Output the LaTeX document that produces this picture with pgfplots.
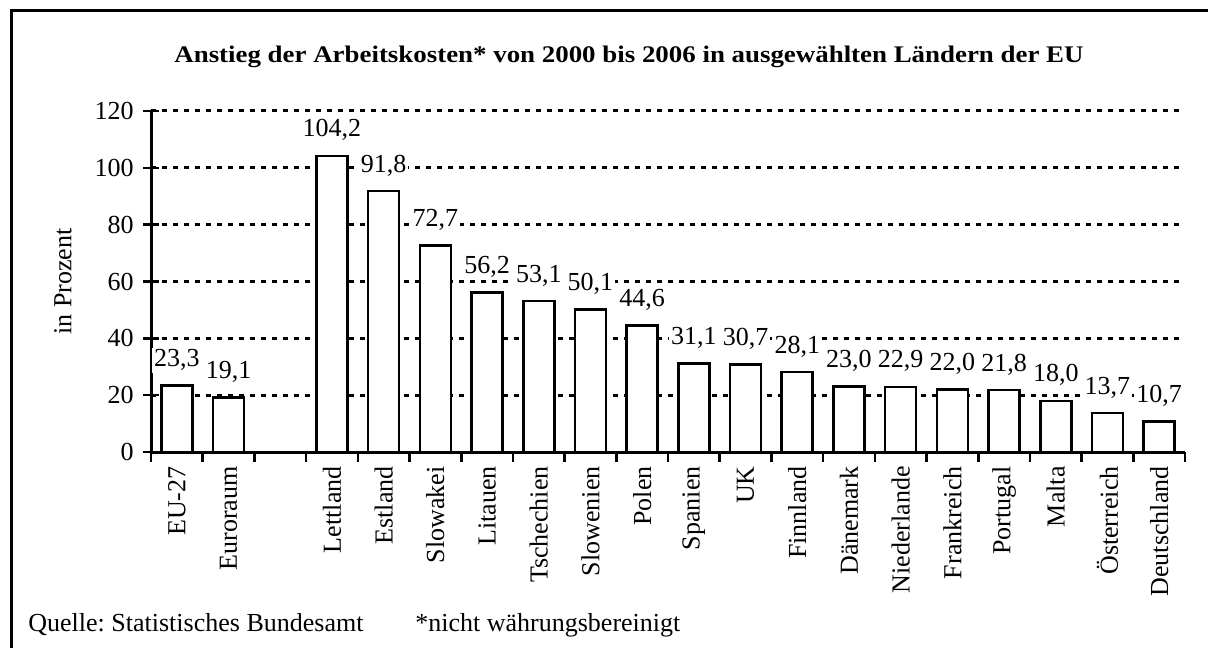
\documentclass[border=0pt]{standalone}
\usepackage{fontspec}
\setmainfont{Liberation Serif}
\newfontfamily\titlefont{Liberation Serif}[FakeStretch=1.13]
\usepackage{pgfplots}
\pgfplotsset{compat=1.18}
\frenchspacing
\begin{document}
\begin{tikzpicture}[font=\fontsize{13bp}{15bp}\selectfont]
\useasboundingbox[fill=white] (0,0) rectangle (604bp,324bp);
\draw[line width=1.5bp] (5.5bp,0) -- (5.5bp,318.5bp) -- (604bp,318.5bp);
\node[font=\titlefont\fontsize{11.9bp}{13bp}\selectfont\bfseries] at (314.5bp,295.5bp) {Anstieg der Arbeitskosten* von 2000 bis 2006 in ausgewählten Ländern der EU};
\node[anchor=base west, inner sep=0pt] at (14bp,8.5bp) {Quelle:\ Statistisches Bundesamt};
\node[anchor=base west, inner sep=0pt] at (207.5bp,8.5bp) {*nicht währungsbereinigt};
\begin{axis}[
  at={(75.5bp,98bp)}, anchor=south west,
  scale only axis, width=517bp, height=170.5bp,
  xmin=-0.5, xmax=19.5, ymin=0, ymax=120,
  axis x line=bottom, axis y line=left,
  axis line style={-, line width=1.5bp},
  xtick={0,...,19},
  xticklabels={EU-27,Euroraum,,Lettland,Estland,Slowakei,Litauen,Tschechien,Slowenien,Polen,Spanien,UK,Finnland,Dänemark,Niederlande,Frankreich,Portugal,Malta,Österreich,Deutschland},
  major x tick style={draw=none},
  minor xtick={-0.5,0.5,...,19.5},
  minor tick length=5bp,
  minor x tick style={line width=1.3bp, black},
  xticklabel style={rotate=90, anchor=east, inner sep=0pt},
  xticklabel shift=-1bp,
  ytick={0,20,...,120},
  major tick length=8bp,
  y tick style={line width=1.3bp, black},
  tick align=center,
  yticklabel style={inner sep=0pt, xshift=-4.5bp},
  ymajorgrids,
  major grid style={black, line width=1.5bp, dash pattern=on 2.5bp off 3bp},
  ylabel={in Prozent},
  ylabel style={at={(axis description cs:0,0.5)}, yshift=44bp, anchor=center},
  /pgf/number format/assume math mode=true,
  ybar, bar width=0.6,
  nodes near coords={\pgfmathprintnumber[use comma,fixed,fixed zerofill,precision=1,assume math mode=true]{\pgfplotspointmeta}},
  nodes near coords style={anchor=base, yshift=9.5bp, fill=white, inner sep=1bp},
]
\addplot[draw=black, fill=white, line width=1.3bp] coordinates {
(0,23.3) (1,19.1) (3,104.2) (4,91.8) (5,72.7) (6,56.2) (7,53.1) (8,50.1) (9,44.6) (10,31.1)
(11,30.7) (12,28.1) (13,23.0) (14,22.9) (15,22.0) (16,21.8) (17,18.0) (18,13.7) (19,10.7)};
\end{axis}
\end{tikzpicture}
\end{document}
